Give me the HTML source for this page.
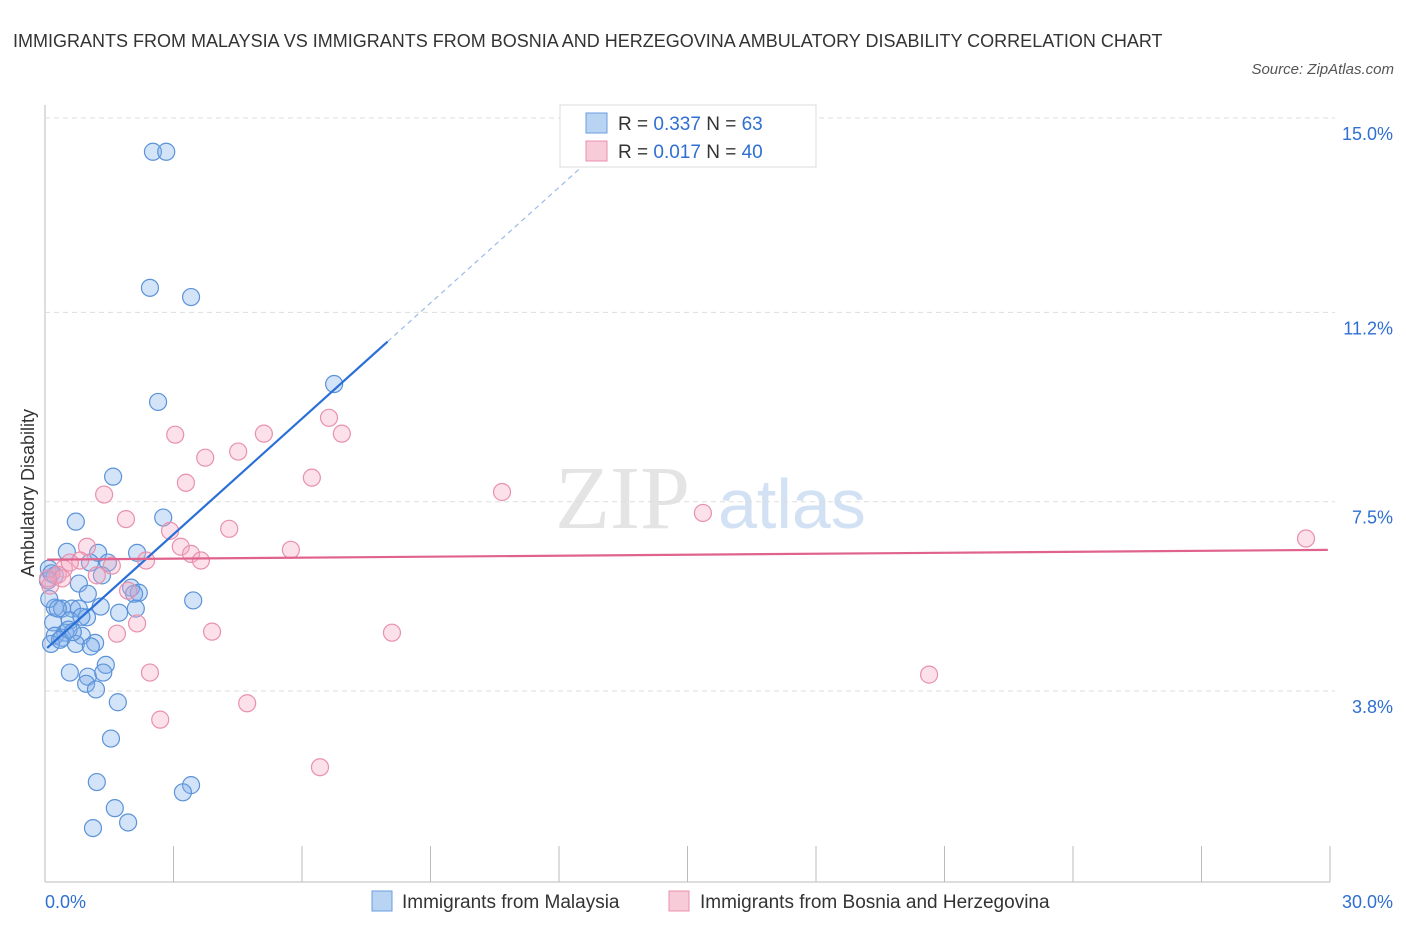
<!DOCTYPE html>
<html><head><meta charset="utf-8"><style>
body{margin:0;background:#fff;font-family:"Liberation Sans",sans-serif;}
.t{position:absolute;color:#333;font-size:18px;}
</style></head><body>
<div style="position:relative;width:1406px;height:930px;overflow:hidden">
<div class="t" style="left:13px;top:22px;line-height:38px;width:1180px">IMMIGRANTS FROM MALAYSIA VS IMMIGRANTS FROM BOSNIA AND HERZEGOVINA AMBULATORY DISABILITY CORRELATION CHART</div>
<div class="t" style="right:12px;top:61px;font-size:15px;font-style:italic;color:#555">Source: ZipAtlas.com</div>
<svg id="chart" width="1406" height="930" style="position:absolute;left:0;top:0">
<text x="555" y="528" font-size="90" font-family="Liberation Serif" fill="#e4e4e4">ZIP</text>
<text x="718" y="528" font-size="70" fill="#d2e1f3" font-family="Liberation Sans">atlas</text>
<g id="grid"></g><g id="pts"></g><g id="lines"></g>
<text x="34" y="493" font-size="18" fill="#333" transform="rotate(-90 34 493)" text-anchor="middle">Ambulatory Disability</text>
<g>
<rect x="560" y="105" width="256" height="62" fill="#fff" stroke="#ddd"/>
<rect x="586" y="113" width="21" height="20" fill="#b9d3f3" stroke="#6a9ee0"/>
<text x="618" y="130" font-size="19" fill="#333">R = <tspan fill="#2f6fd1">0.337</tspan>   N =  <tspan fill="#2f6fd1">63</tspan></text>
<rect x="586" y="141" width="21" height="20" fill="#f8cbd8" stroke="#e892ad"/>
<text x="618" y="158" font-size="19" fill="#333">R = <tspan fill="#2f6fd1">0.017</tspan>   N =  <tspan fill="#2f6fd1">40</tspan></text>
</g>
<g>
<rect x="372" y="891" width="20" height="20" fill="#b9d3f3" stroke="#6a9ee0"/>
<text x="402" y="908" font-size="19" fill="#333">Immigrants from Malaysia</text>
<rect x="669" y="891" width="20" height="20" fill="#f8cbd8" stroke="#e892ad"/>
<text x="700" y="908" font-size="19" fill="#333">Immigrants from Bosnia and Herzegovina</text>
</g>
</svg>
</div>
<script>
const yTicks=[15.0,11.2,7.5,3.8];
const xTickLabels=["0.0%","30.0%"];
const blueX=[2.52,2.83,2.45,3.41,6.75,2.64,1.59,0.72,2.76,0.51,1.24,2.15,1.05,1.47,0.09,0.23,1.33,0.79,2.01,2.19,2.08,1.00,3.46,0.23,0.40,0.63,0.79,2.12,1.73,0.98,0.58,0.19,0.47,0.23,0.86,0.40,1.17,0.72,0.14,1.07,1.42,0.58,1.00,1.36,0.96,1.19,1.70,1.54,1.21,3.41,3.22,1.63,1.12,1.94,0.07,0.10,0.30,0.55,0.85,1.30,0.35,0.15,0.65];
const blueY=[14.34,14.34,11.68,11.50,9.80,9.45,7.99,7.11,7.19,6.52,6.50,6.50,6.31,6.31,6.19,6.06,6.06,5.90,5.82,5.72,5.70,5.70,5.57,5.43,5.41,5.41,5.41,5.41,5.33,5.24,5.18,5.14,4.94,4.88,4.88,4.84,4.74,4.72,4.72,4.67,4.31,4.16,4.08,4.16,3.94,3.83,3.58,2.87,2.02,1.96,1.82,1.51,1.12,1.23,5.96,5.60,5.41,5.00,5.25,5.45,4.80,6.10,4.95];
const pinkX=[29.44,20.64,15.36,10.67,8.10,6.63,6.93,6.23,5.74,5.11,4.51,3.74,3.04,3.29,4.30,2.92,3.17,3.41,3.64,2.36,1.89,1.38,0.98,1.21,1.56,0.82,0.44,0.30,0.12,1.94,2.15,1.68,3.90,2.45,2.69,4.72,6.42,0.58,0.40,0.07];
const pinkY=[6.78,4.12,7.28,7.69,4.94,9.14,8.83,7.97,6.56,8.83,8.48,8.36,8.81,7.87,6.97,6.93,6.62,6.48,6.35,6.35,7.16,7.64,6.62,6.06,6.25,6.35,6.19,6.07,5.86,5.76,5.12,4.92,4.96,4.16,3.24,3.56,2.31,6.31,6.00,6.00];
const X0=45,X1=1330,Y0=885.4,PY=51.16,TOP=105,BOT=882;
const xs=v=>X0+v/30*(X1-X0), ys=v=>Y0-v*PY;
const NS="http://www.w3.org/2000/svg";
function mk(tag,at,parent){const e=document.createElementNS(NS,tag);for(const k in at)e.setAttribute(k,at[k]);parent.appendChild(e);return e;}
const grid=document.getElementById('grid'),svg=document.getElementById('chart');
let ax=mk('line',{x1:X0,y1:TOP,x2:X0,y2:BOT,stroke:'#bbb'},grid);


let bx=mk('line',{x1:X0,y1:BOT,x2:X1,y2:BOT,stroke:'#bbb'},grid);


yTicks.forEach(v=>{
 let g=mk('line',{x1:X0,y1:ys(v),x2:X1+5,y2:ys(v),stroke:'#ddd','stroke-dasharray':'5,4'},grid);
 
 
 let t=mk('text',{x:1393,y:ys(v)+22,'text-anchor':'end','font-size':18,fill:'#2f6fd1'},grid);
 t.textContent=v.toFixed(1)+'%';
 
 
});
for(let i=0;i<=10;i++){
 let l=mk('line',{x1:xs(i*3),y1:BOT-36,x2:xs(i*3),y2:BOT,stroke:'#bbb'},grid);
 
 
}
xTickLabels.forEach((s,i)=>{
 let t=mk('text',{x:i?1393:45,y:908,'text-anchor':i?'end':'start','font-size':18,fill:'#2f6fd1'},grid);
 t.textContent=s;
 
 
});
const pts=document.getElementById('pts');
function series(X,Y,fill,stroke,name){X.forEach((x,i)=>{
 let c=mk('circle',{cx:xs(x),cy:ys(Y[i]),r:8.5,fill:fill,stroke:stroke,'stroke-width':1.2},pts);
 
 
});}
series(blueX,blueY,'rgba(130,175,235,0.35)','#5b93d9','malaysia-point');
series(pinkX,pinkY,'rgba(245,170,195,0.35)','#e891ad','bosnia-point');
const lines=document.getElementById('lines');
function fit(X,Y){const n=X.length,mx=X.reduce((a,b)=>a+b)/n,my=Y.reduce((a,b)=>a+b)/n;let sxy=0,sxx=0;X.forEach((x,i)=>{sxy+=(x-mx)*(Y[i]-my);sxx+=(x-mx)**2});const b=sxy/sxx;return [my-b*mx,b];}
const [ba,bb]=fit(blueX,blueY);
let bl=mk('line',{x1:xs(0.05),y1:ys(ba+bb*0.05),x2:xs(8),y2:ys(ba+bb*8),stroke:'#2a6fd6','stroke-width':2.2},lines);


let bd=mk('line',{x1:xs(8),y1:ys(ba+bb*8),x2:xs(12.7),y2:ys(ba+bb*12.7),stroke:'#9bbbe6','stroke-width':1.2,'stroke-dasharray':'5,4'},lines);


const [pa,pb]=fit(pinkX,pinkY);
let pl=mk('line',{x1:xs(0.05),y1:ys(pa+pb*0.05),x2:xs(29.95),y2:ys(pa+pb*29.95),stroke:'#e0638e','stroke-width':2.2},lines);


</script>
</body></html>
